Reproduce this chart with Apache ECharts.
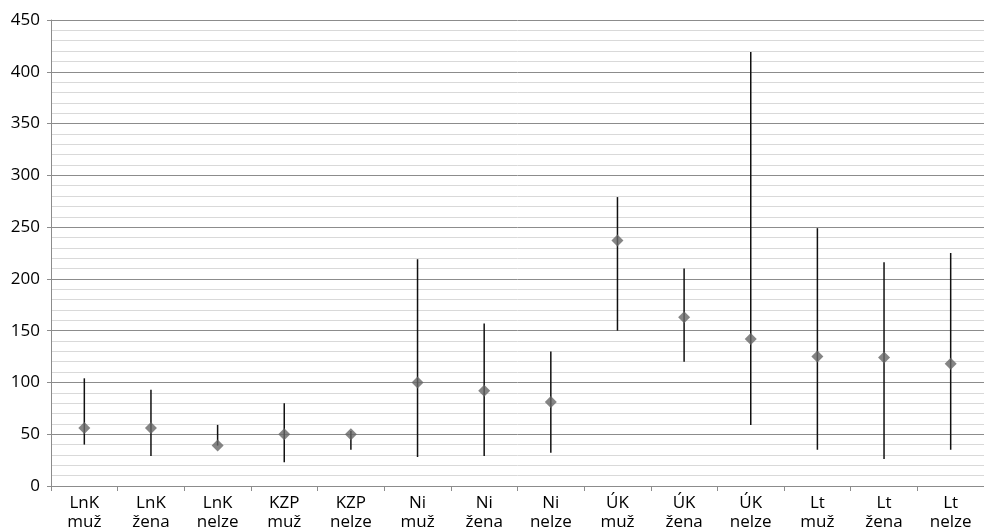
<!DOCTYPE html>
<html>
<head>
<meta charset="utf-8">
<script src="https://cdn.jsdelivr.net/npm/echarts@6/dist/echarts.min.js"></script>
<style>
  html, body { margin: 0; padding: 0; background: #fff; }
  #chart { width: 984px; height: 532px; }
</style>
</head>
<body>
<div id="chart"></div>
<script>
// Groups and sub-groups shown on the category axis
const groups = ['LnK', 'LnK', 'LnK', 'KZP', 'KZP', 'Ni', 'Ni', 'Ni', 'ÚK', 'ÚK', 'ÚK', 'Lt', 'Lt', 'Lt'];
const subgroups = ['muž', 'žena', 'nelze', 'muž', 'nelze', 'muž', 'žena', 'nelze', 'muž', 'žena', 'nelze', 'muž', 'žena', 'nelze'];

// Mean, maximum and minimum per category
const means = [56, 56, 39, 50, 50, 100, 92, 81, 237, 163, 142, 125, 124, 118];
const highs = [104, 93, 59, 80, 53, 219, 157, 130, 279, 210, 419, 249, 216, 225];
const lows  = [40, 29, 39, 23, 35, 28, 29, 32, 150, 120, 59, 35, 26, 35];

// Y axis range
const yMin = 0;
const yMax = 450;
const yStep = 50;

const categories = groups.map((g, i) => g + '\n' + subgroups[i]);
const rangeData = categories.map((c, i) => [i, lows[i], highs[i]]);

const labelFont = 'Open Sans, Noto Sans, sans-serif';

const chart = echarts.init(document.getElementById('chart'), null, { renderer: 'canvas' });

chart.setOption({
  animation: false,
  backgroundColor: '#ffffff',
  grid: { left: 51, right: -2, top: 20, bottom: 45, containLabel: false },
  xAxis: {
    type: 'category',
    data: categories,
    boundaryGap: true,
    axisLine: { show: true, lineStyle: { color: '#8c8c8c', width: 1 } },
    axisTick: { show: true, interval: 0, length: 5, lineStyle: { color: '#8c8c8c' } },
    axisLabel: {
      interval: 0,
      color: '#000',
      fontFamily: labelFont,
      fontSize: 17,
      lineHeight: 19,
      margin: 8
    },
    splitLine: { show: false }
  },
  yAxis: {
    type: 'value',
    min: yMin,
    max: yMax,
    interval: yStep,
    axisLine: { show: true, lineStyle: { color: '#8c8c8c', width: 1 } },
    axisTick: { show: true, length: 4, lineStyle: { color: '#8c8c8c' } },
    axisLabel: {
      color: '#000',
      fontFamily: labelFont,
      fontSize: 17,
      margin: 11
    },
    splitLine: { show: true, lineStyle: { color: '#8c8c8c', width: 1 } },
    minorTick: { show: false, splitNumber: 5 },
    minorSplitLine: { show: true, lineStyle: { color: '#d9d9d9', width: 1 } }
  },
  series: [
    {
      type: 'custom',
      name: 'rozsah',
      data: rangeData,
      z: 3,
      renderItem: function (params, api) {
        const x = api.value(0);
        const lo = api.coord([x, api.value(1)]);
        const hi = api.coord([x, api.value(2)]);
        return {
          type: 'line',
          shape: { x1: lo[0], y1: lo[1], x2: hi[0], y2: hi[1] },
          style: { stroke: '#111111', lineWidth: 1.5 }
        };
      }
    },
    {
      type: 'scatter',
      name: 'průměr',
      data: means,
      symbol: 'diamond',
      symbolSize: [12, 12],
      z: 4,
      itemStyle: { color: '#666666' }
    }
  ]
});
</script>
</body>
</html>
